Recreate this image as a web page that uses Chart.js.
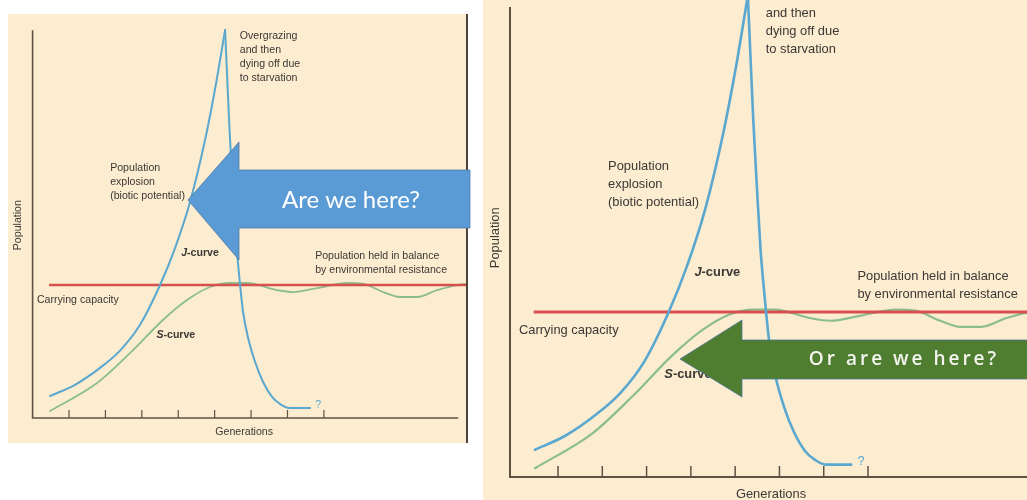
<!DOCTYPE html>
<html>
<head>
<meta charset="utf-8">
<script src="https://cdn.jsdelivr.net/npm/chart.js@4.4.0/dist/chart.umd.min.js"></script>
<style>
  html, body { margin: 0; padding: 0; background: #fff; width: 1027px; height: 500px; overflow: hidden; }
  .panel { position: absolute; background: #fcecd0; }
  #leftPanel { left: 8px; top: 14px; width: 460px; height: 429px; }
  #leftEdge { position: absolute; left: 466px; top: 14px; width: 2px; height: 429px; background: #4d443a; }
  #rightPanel { left: 483px; top: 0; width: 544px; height: 500px; }
  canvas { display: block; }
  #overlay { position: absolute; left: 0; top: 0; pointer-events: none; }
</style>
</head>
<body>
<div class="panel" id="leftPanel"><canvas id="leftChart" width="460" height="429"></canvas></div>
<div id="leftEdge"></div>
<div class="panel" id="rightPanel"><canvas id="rightChart" width="544" height="500"></canvas></div>
<canvas id="overlay" width="1027" height="500"></canvas>
<script>
// x = generations (tick units), y = population (carrying capacity = 100)
var jRiseX = [0.478, 1.165, 1.852, 2.401, 2.951, 3.500, 3.912, 4.324, 4.736, 5.011, 5.286];
var jRiseY = [16.5, 25.0, 37.7, 50.7, 70.1, 100, 127.8, 162.4, 209, 247.4, 291.7];

var jFallX = [5.286, 5.341, 5.409, 5.492, 5.574, 5.643, 5.698, 5.780, 5.918, 6.110, 6.330, 6.577, 6.797, 7.044, 7.621];
var jFallY = [291.7, 257.9, 216.5, 175.2, 137.6, 115.8, 100, 79.7, 60.2, 42.1, 27.1, 15.8, 10.5, 7.5, 7.5];

var sCurveX = [0.48, 1.77, 2.68, 3.58, 4.24, 4.87, 5.42, 5.89, 6.71, 7.15, 7.81, 8.64, 9.08, 9.63, 10.09, 10.56, 11.11, 11.66, 11.93];
var sCurveY = [5.3, 26.3, 48.9, 73.7, 88.7, 98.5, 101.5, 101.5, 96.2, 94.7, 97.7, 101.5, 100.8, 94.7, 91, 91, 96.2, 100, 100.8];

var capacity = 100;
var capStartX = 0.45;
var xTicks = [1, 2, 3, 4, 5, 6, 7, 8];

var J_COLOR = '#5aa7cf';
var S_COLOR = '#8cbd8c';
var CAP_COLOR = '#d5504e';
var AXIS_COLOR = '#5e5244';
var TEXT_COLOR = '#3b3835';

var panels = [
  { id: 'leftChart', xMin: 0, xMax: 11.93, yMax: 303.8,
    pad: { left: 24.6, right: 1, top: 0, bottom: 25 },
    xAxisEnd: 11.69, yAxisTop: 291.5, tickLen: 8, font: 10.6, lh: 14, noteY: 287,
    axisW: 1.6, tickW: 1.2, jW: 2, sW: 1.8, capW: 2.5 },
  { id: 'rightChart', xMin: -0.084, xMax: 11.59, yMax: 289.1,
    pad: { left: 27, right: 0, top: 0, bottom: 23 },
    xAxisEnd: 11.59, yAxisTop: 284.8, tickLen: 11, font: 12.9, lh: 18, noteY: 292,
    axisW: 2, tickW: 1.5, jW: 2.6, sW: 2.2, capW: 3 }
];

function pts(xs, ys) {
  var out = [];
  for (var i = 0; i < xs.length; i++) out.push({ x: xs[i], y: ys[i] });
  return out;
}

function fontStr(p, weight, style) {
  return (style || '') + ' ' + (weight || '') + ' ' + p.font + 'px "Liberation Sans", Arial, sans-serif';
}

function makeDecor(p) {
  return {
    id: 'decor',
    beforeDatasetsDraw: function(chart) {
      var c = chart.ctx, xs = chart.scales.x, ys = chart.scales.y, a = chart.chartArea;
      var y0 = ys.getPixelForValue(0);
      c.save();
      c.strokeStyle = AXIS_COLOR;
      c.lineWidth = p.axisW;
      c.beginPath();
      c.moveTo(a.left, ys.getPixelForValue(p.yAxisTop));
      c.lineTo(a.left, y0);
      c.lineTo(xs.getPixelForValue(p.xAxisEnd), y0);
      c.stroke();
      c.lineWidth = p.tickW;
      xTicks.forEach(function(t) {
        var x = xs.getPixelForValue(t);
        c.beginPath();
        c.moveTo(x, y0);
        c.lineTo(x, y0 - p.tickLen);
        c.stroke();
      });
      c.restore();
    },
    afterDatasetsDraw: function(chart) {
      var c = chart.ctx, xs = chart.scales.x, ys = chart.scales.y;
      c.save();
      c.fillStyle = TEXT_COLOR;
      c.textBaseline = 'middle';
      c.textAlign = 'left';
      c.font = fontStr(p);

      function lines(arr, x, y) {
        var px = xs.getPixelForValue(x), py = ys.getPixelForValue(y);
        arr.forEach(function(s, i) {
          var ly = py + i * p.lh;
          if (ly > 0) c.fillText(s, px, ly);   // lines cut off by the photo edge are left out
        });
      }
      lines(['Overgrazing', 'and then', 'dying off due', 'to starvation'], 5.69, p.noteY);
      lines(['Population', 'explosion', '(biotic potential)'], 2.13, 188);
      lines(['Population held in balance', 'by environmental resistance'], 7.76, 121.5);
      lines(['Carrying capacity'], 0.12, 89);

      function curveLabel(letter, x, y) {
        var px = xs.getPixelForValue(x), py = ys.getPixelForValue(y);
        c.font = fontStr(p, 'bold', 'italic');
        c.fillText(letter, px, py);
        var w = c.measureText(letter).width;
        c.font = fontStr(p, 'bold');
        c.fillText('-curve', px + w, py);
        c.font = fontStr(p);
      }
      curveLabel('J', 4.08, 124);
      curveLabel('S', 3.40, 62);

      c.textAlign = 'center';
      c.fillText('Generations', xs.getPixelForValue(5.81), ys.getPixelForValue(-10.4));

      c.save();
      c.translate(xs.getPixelForValue(-0.41), ys.getPixelForValue(145));
      c.rotate(-Math.PI / 2);
      c.fillText('Population', 0, 0);
      c.restore();

      c.textAlign = 'left';
      c.fillStyle = J_COLOR;
      c.fillText('?', xs.getPixelForValue(7.76), ys.getPixelForValue(9.5));
      c.restore();
    }
  };
}

function buildChart(p) {
  var lineBase = { pointRadius: 0, fill: false, cubicInterpolationMode: 'monotone', borderCapStyle: 'round' };
  return new Chart(document.getElementById(p.id), {
    type: 'line',
    data: {
      datasets: [
        Object.assign({ label: 'J-curve rise', data: pts(jRiseX, jRiseY), borderColor: J_COLOR, borderWidth: p.jW }, lineBase),
        Object.assign({ label: 'J-curve fall', data: pts(jFallX, jFallY), borderColor: J_COLOR, borderWidth: p.jW }, lineBase),
        Object.assign({ label: 'Carrying capacity', data: [{ x: capStartX, y: capacity }, { x: p.xMax, y: capacity }],
          borderColor: CAP_COLOR, borderWidth: p.capW }, lineBase, { borderCapStyle: 'butt' }),
        Object.assign({ label: 'S-curve', data: pts(sCurveX, sCurveY), borderColor: S_COLOR, borderWidth: p.sW }, lineBase)
      ]
    },
    options: {
      responsive: false,
      animation: false,
      devicePixelRatio: 1,
      layout: { padding: p.pad },
      plugins: { legend: { display: false }, tooltip: { enabled: false } },
      scales: {
        x: { type: 'linear', min: p.xMin, max: p.xMax, display: false },
        y: { type: 'linear', min: 0, max: p.yMax, display: false }
      }
    },
    plugins: [makeDecor(p)]
  });
}

panels.forEach(buildChart);

// callout arrows laid over the two figures
function arrow(c, tipX, tipY, headX, headTop, headBot, shaftTop, shaftBot, endX, fill, edge) {
  c.beginPath();
  c.moveTo(tipX, tipY);
  c.lineTo(headX, headTop);
  c.lineTo(headX, shaftTop);
  c.lineTo(endX, shaftTop);
  c.lineTo(endX, shaftBot);
  c.lineTo(headX, shaftBot);
  c.lineTo(headX, headBot);
  c.closePath();
  c.fillStyle = fill;
  c.fill();
  c.strokeStyle = edge;
  c.lineWidth = 1;
  c.stroke();
}

var ov = document.getElementById('overlay').getContext('2d');
arrow(ov, 188, 200, 239, 142, 260, 170, 228, 470, '#5b9bd5', 'rgba(65,113,156,0.7)');
ov.fillStyle = '#ffffff';
ov.textAlign = 'center';
ov.textBaseline = 'middle';
ov.font = '24px Lato, "Open Sans", sans-serif';
ov.fillText('Are we here?', 351, 200);

arrow(ov, 680, 359, 742, 320, 397, 340, 379, 1028, '#4f7e31', 'rgba(65,113,156,0.7)');
ov.fillStyle = '#f4f4ee';
ov.font = '600 19px "Open Sans", sans-serif';
ov.letterSpacing = '3px';
ov.fillText('Or are we here?', 904, 360);
</script>
</body>
</html>
